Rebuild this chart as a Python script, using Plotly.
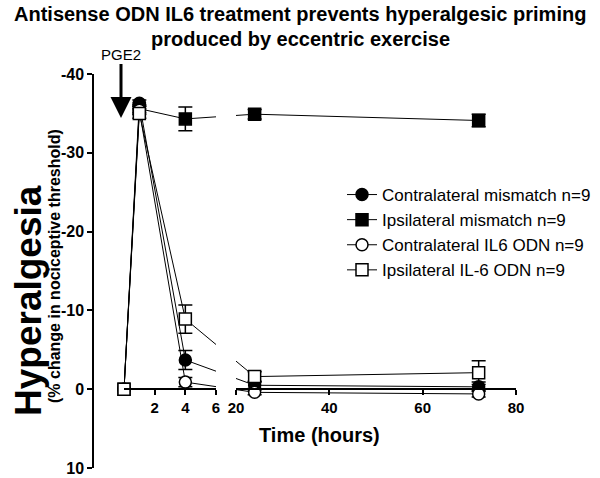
import plotly.graph_objects as go

# ---------------- data ----------------
times = [0, 1, 4, 24, 72]
series_names = [
    "Contralateral mismatch n=9",
    "Ipsilateral mismatch n=9",
    "Contralateral IL6 ODN n=9",
    "Ipsilateral IL-6 ODN n=9",
]
contra_mismatch = [0, -36.3, -3.7, -0.5, -0.3]
contra_mismatch_err = [0, 0.4, 1.2, 0.4, 0.6]
ipsi_mismatch = [0, -35.6, -34.3, -34.9, -34.1]
ipsi_mismatch_err = [0, 0.5, 1.5, 0.6, 0.8]
contra_il6 = [0, -35.4, -0.9, 0.4, 0.6]
contra_il6_err = [0, 0.5, 0.6, 0.3, 0.4]
ipsi_il6 = [0, -35.0, -8.9, -1.6, -2.1]
ipsi_il6_err = [0, 0.6, 1.8, 0.6, 1.5]

y_ticks = [-40, -30, -20, -10, 0, 10]
y_tick_labels = ["-40", "-30", "-20", "-10", "0", "10"]
x1_ticks = [2, 4, 6]
x2_ticks = [20, 40, 60, 80]

values = [contra_mismatch, ipsi_mismatch, contra_il6, ipsi_il6]
errors = [contra_mismatch_err, ipsi_mismatch_err, contra_il6_err, ipsi_il6_err]
symbols = ["circle", "square", "circle", "square"]
fills = ["black", "black", "white", "white"]

# ---------------- broken x-axis geometry ----------------
X1_RANGE = [0, 6]
X2_RANGE = [20, 80]
D1 = [0.0733, 0.2908]
D2 = [0.338, 1.0]
W, H = 600, 478
ML, MR, MT, MB = 93, 84, 74, 10
PW, PH = W - ML - MR, H - MT - MB


def px_x(px):
    return (px - ML) / PW


def px_y(py):
    return (H - MB - py) / PH


def to_paper(t):
    if t <= X1_RANGE[1]:
        return D1[0] + (t - X1_RANGE[0]) / (X1_RANGE[1] - X1_RANGE[0]) * (D1[1] - D1[0])
    return D2[0] + (t - X2_RANGE[0]) / (X2_RANGE[1] - X2_RANGE[0]) * (D2[1] - D2[0])


def paper_to_x1(p):
    return X1_RANGE[0] + (p - D1[0]) / (D1[1] - D1[0]) * (X1_RANGE[1] - X1_RANGE[0])


def paper_to_x2(p):
    return X2_RANGE[0] + (p - D2[0]) / (D2[1] - D2[0]) * (X2_RANGE[1] - X2_RANGE[0])


fig = go.Figure()
FONT = "Liberation Sans, Arial, sans-serif"

# bridging line pieces across the axis break (clipped at each axis end)
left_idx = [i for i, t in enumerate(times) if t <= X1_RANGE[1]]
right_idx = [i for i, t in enumerate(times) if t >= X2_RANGE[0]]
for vals in values:
    i_a, i_b = left_idx[-1], right_idx[0]
    ta, tb = times[i_a], times[i_b]
    fig.add_trace(go.Scatter(
        x=[ta, paper_to_x1(to_paper(tb))], y=[vals[i_a], vals[i_b]],
        mode="lines", line=dict(color="black", width=1),
        xaxis="x", yaxis="y", showlegend=False, hoverinfo="skip"))
    fig.add_trace(go.Scatter(
        x=[paper_to_x2(to_paper(ta)), tb], y=[vals[i_a], vals[i_b]],
        mode="lines", line=dict(color="black", width=1),
        xaxis="x2", yaxis="y", showlegend=False, hoverinfo="skip"))

for k, (name, vals, errs, sym, fill) in enumerate(zip(series_names, values, errors, symbols, fills)):
    marker = dict(symbol=sym, size=12, color=fill, line=dict(color="black", width=1.5))
    for axis, idx in (("x", left_idx), ("x2", right_idx)):
        fig.add_trace(go.Scatter(
            x=[times[i] for i in idx], y=[vals[i] for i in idx],
            error_y=dict(type="data", array=[errs[i] for i in idx], visible=True,
                         color="black", thickness=1.5, width=7),
            mode="lines+markers", name=name, marker=marker,
            line=dict(color="black", width=1),
            xaxis=axis, yaxis="y", cliponaxis=False,
            legendgroup=name, showlegend=(axis == "x")))

axis_common = dict(
    showline=True, linecolor="black", linewidth=1.5,
    ticks="outside", ticklen=5, tickwidth=1.5, tickcolor="black",
    showgrid=False, zeroline=False, automargin=False,
)
xfont = dict(family=FONT, size=15, color="black", weight="bold")
yfont = dict(family=FONT, size=16, color="black", weight="bold")

fig.update_layout(
    width=W, height=H,
    margin=dict(l=ML, r=MR, t=MT, b=MB, autoexpand=False),
    plot_bgcolor="white", paper_bgcolor="white",
    xaxis=dict(domain=D1, range=X1_RANGE, tickvals=x1_ticks, anchor="free", position=0.2,
               tickfont=xfont, **axis_common),
    xaxis2=dict(domain=D2, range=X2_RANGE, tickvals=x2_ticks, anchor="free", position=0.2,
                tickfont=xfont, **axis_common),
    yaxis=dict(range=[10, -40], tickvals=y_ticks, ticktext=y_tick_labels,
               anchor="free", position=0, tickfont=yfont, **axis_common),
    legend=dict(
        x=px_x(342), y=px_y(177), xanchor="left", yanchor="top",
        font=dict(family=FONT, size=17, color="black"),
        bgcolor="rgba(0,0,0,0)", tracegroupgap=0,
    ),
    showlegend=True,
)

title_lines = ["Antisense ODN IL6 treatment prevents hyperalgesic priming",
               "produced by eccentric exercise"]
for line, ypx in zip(title_lines, [14, 39]):
    fig.add_annotation(
        x=(W / 2 - ML) / PW, y=px_y(ypx), xref="paper", yref="paper",
        xanchor="center", yanchor="middle", text=line, showarrow=False,
        font=dict(family=FONT, size=20, color="black", weight="bold"),
    )

fig.add_annotation(
    x=px_x(121), y=px_y(118), xref="paper", yref="paper",
    text="PGE2", showarrow=True, ax=0, ay=-64,
    arrowhead=2, arrowsize=1.4, arrowwidth=3, arrowcolor="black",
    font=dict(family=FONT, size=15, color="black"),
)
fig.add_annotation(
    x=px_x(319), y=px_y(435), xref="paper", yref="paper",
    xanchor="center", yanchor="middle",
    text="Time (hours)", showarrow=False,
    font=dict(family=FONT, size=20, color="black", weight="bold"),
)
fig.add_annotation(
    x=px_x(28), y=px_y(301), xref="paper", yref="paper", xanchor="center", yanchor="middle",
    text="Hyperalgesia", textangle=-90, showarrow=False,
    font=dict(family=FONT, size=37, color="black", weight="bold"),
)
fig.add_annotation(
    x=px_x(54), y=px_y(266), xref="paper", yref="paper", xanchor="center", yanchor="middle",
    text="(% change in nociceptive threshold)", textangle=-90, showarrow=False,
    font=dict(family=FONT, size=16, color="black", weight="bold"),
)

# remove the browser's default 8px page margin so the figure fills the window
fig.write_html("out.html", config={"displayModeBar": False},
               post_script="document.body.style.margin='0';")
